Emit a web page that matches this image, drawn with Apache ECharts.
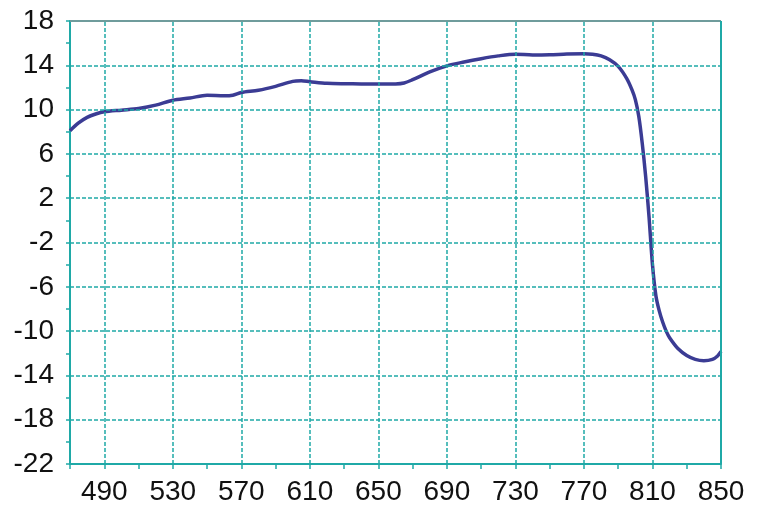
<!DOCTYPE html>
<html>
<head>
<meta charset="utf-8">
<script src="https://cdn.jsdelivr.net/npm/echarts@6/dist/echarts.min.js"></script>
<style>
  html, body { margin: 0; padding: 0; background: #fff; }
  #chart { width: 761px; height: 528px; }
</style>
</head>
<body>
<div id="chart"></div>
<script>
// wavelength (x) and measured value (y)
let xValues = [470, 475, 480, 485, 490, 500, 510, 520, 530, 540, 550, 560, 565, 570, 580, 590,
    600, 605, 610, 620, 630, 640, 650, 660, 665, 670, 680, 690, 700, 710, 720, 730, 740, 750,
    760, 770, 775, 780, 785, 790, 795, 798, 800, 802, 804, 806, 808, 810, 812, 814, 816, 818,
    820, 825, 830, 835, 840, 845, 848, 850];
let yValues = [8.1, 8.8, 9.3, 9.6, 9.8, 9.95, 10.1, 10.4, 10.85, 11.05, 11.3, 11.25, 11.3, 11.55, 11.75, 12.1,
    12.55, 12.6, 12.52, 12.37, 12.33, 12.32, 12.31, 12.32, 12.4, 12.7, 13.4, 13.95, 14.3, 14.6, 14.85, 15.0, 14.93, 14.95,
    15.02, 15.05, 15.0, 14.85, 14.5, 13.9, 12.8, 11.8, 10.9, 9.4, 7.0, 4.0, 0.3, -4.0, -6.8, -8.2, -9.2, -10.0,
    -10.6, -11.6, -12.2, -12.55, -12.67, -12.55, -12.25, -11.85];

let xLabels = [490, 530, 570, 610, 650, 690, 730, 770, 810, 850];
let xTicks = [470, 490, 510, 530, 550, 570, 590, 610, 630, 650, 670, 690, 710, 730, 750, 770, 790, 810, 830, 850];
let yLabels = [-22, -18, -14, -10, -6, -2, 2, 6, 10, 14, 18];
let yTicks = [-22, -20, -18, -16, -14, -12, -10, -8, -6, -4, -2, 0, 2, 4, 6, 8, 10, 12, 14, 16, 18];

let teal = '#1fa9a7';
let gridDash = { color: teal, width: 1.5, type: [4, 2] };

let xGrid = xLabels.filter(v => v < 850).map(v => ({ xAxis: v, lineStyle: gridDash }));
let yGrid = yLabels.filter(v => v > -22).map(v => ({ yAxis: v, lineStyle: gridDash }));

let labelFont = {
    color: '#111',
    fontSize: 28,
    fontFamily: 'Liberation Sans, Arial, sans-serif'
};

let option = {
    animation: false,
    grid: { left: 70, right: 40, top: 21, bottom: 64, containLabel: false },
    xAxis: {
        type: 'value',
        min: 470,
        max: 850,
        axisLine: { show: true, onZero: false, lineStyle: { color: teal, width: 2 } },
        axisTick: { show: true, customValues: xTicks, length: 5, lineStyle: { color: teal, width: 1.5 } },
        axisLabel: { ...labelFont, customValues: xLabels, margin: 14 },
        splitLine: { show: false }
    },
    yAxis: {
        type: 'value',
        min: -22,
        max: 18,
        axisLine: { show: true, onZero: false, lineStyle: { color: teal, width: 2 } },
        axisTick: { show: true, customValues: yTicks, length: 4, lineStyle: { color: teal, width: 1.5 } },
        axisLabel: { ...labelFont, customValues: yLabels, margin: 16 },
        splitLine: { show: false }
    },
    series: [
        {
            // grid lines + frame
            type: 'line',
            data: [],
            z: 1,
            silent: true,
            markLine: {
                silent: true,
                symbol: 'none',
                label: { show: false },
                data: [
                    ...xGrid,
                    ...yGrid,
                    { yAxis: 18, lineStyle: { color: '#6f9c9c', width: 2, type: 'solid' } },
                    { xAxis: 850, lineStyle: { color: teal, width: 2, type: 'solid' } }
                ]
            }
        },
        {
            type: 'line',
            z: 3,
            smooth: 0.3,
            showSymbol: false,
            lineStyle: { color: '#3b3c94', width: 3.5 },
            data: xValues.map((x, i) => [x, yValues[i]])
        }
    ]
};

let myChart = echarts.init(document.getElementById('chart'));
myChart.setOption(option);
</script>
</body>
</html>
